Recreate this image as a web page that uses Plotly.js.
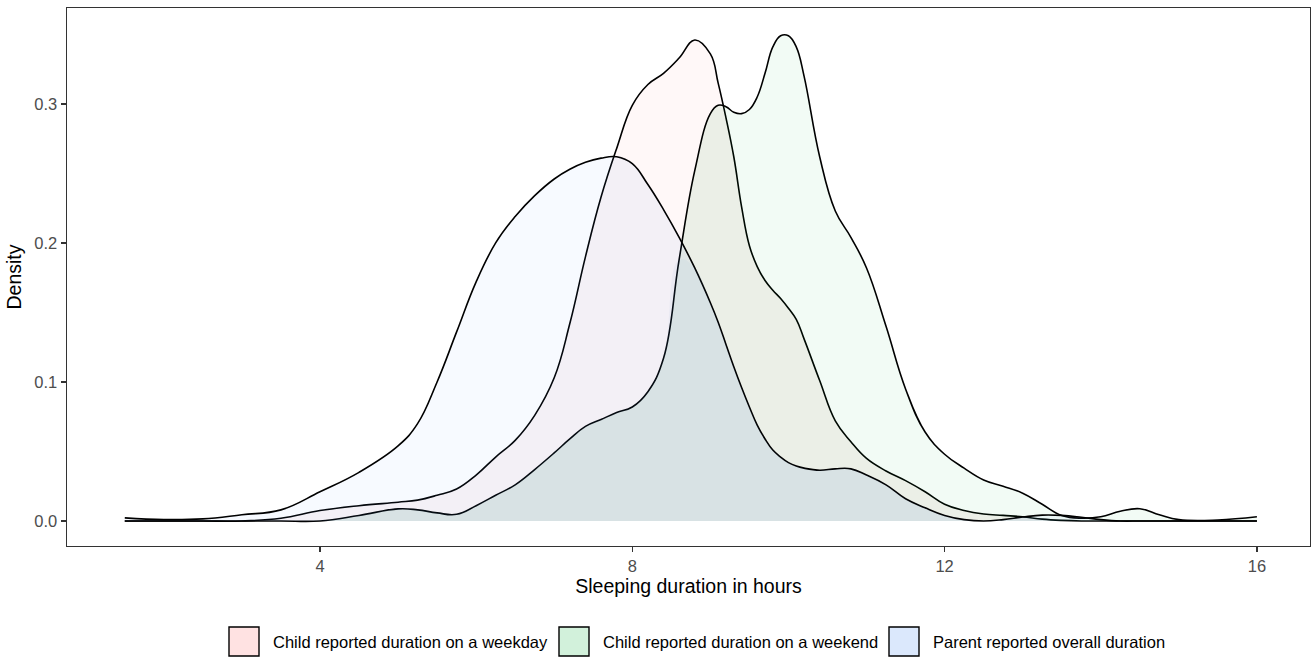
<!DOCTYPE html>
<html>
<head>
<meta charset="utf-8">
<script src="https://cdn.plot.ly/plotly-3.0.1.min.js"></script>
<style>
  html, body { margin: 0; padding: 0; background: #fff; }
  #chart { width: 1314px; height: 658px; }
</style>
</head>
<body>
<div id="chart"></div>
<script>
// ---- Data ----
const hours = [1.5, 2, 2.5, 3, 3.5, 4, 4.5, 5, 5.25, 5.5, 5.75, 6, 6.25, 6.5, 6.75, 7,
  7.2, 7.4, 7.6, 7.8, 8, 8.2, 8.4, 8.6, 8.8, 9, 9.1, 9.2, 9.3, 9.4, 9.5, 9.6, 9.7, 9.8, 9.9, 10,
  10.1, 10.2, 10.4, 10.6, 10.8, 11, 11.25, 11.5, 11.75, 12, 12.25, 12.5, 12.75, 13,
  13.25, 13.5, 13.75, 14, 14.25, 14.5, 14.75, 15, 15.5, 16];

const childWeekday = [0, 0, 0, 0, 0.002, 0.0075, 0.011, 0.0135, 0.015, 0.0185, 0.023, 0.033,
  0.046, 0.058, 0.076, 0.103, 0.142, 0.19, 0.233, 0.268, 0.299, 0.314, 0.322, 0.333, 0.346, 0.336,
  0.315, 0.29, 0.262, 0.226, 0.198, 0.183, 0.173, 0.166, 0.16, 0.153, 0.145, 0.131, 0.101, 0.072,
  0.057, 0.045, 0.036, 0.029, 0.021, 0.012, 0.0075, 0.005, 0.004, 0.003, 0.0013, 0.0004, 0, 0,
  0, 0, 0, 0, 0, 0];

const childWeekend = [0, 0, 0, 0, 0, 0, 0.004, 0.0087, 0.008, 0.0058, 0.0048, 0.011,
  0.0185, 0.026, 0.037, 0.049, 0.059, 0.068, 0.073, 0.078, 0.082, 0.093, 0.117, 0.188, 0.252, 0.293,
  0.299, 0.298, 0.294, 0.293, 0.296, 0.305, 0.322, 0.341, 0.349, 0.349, 0.341, 0.32, 0.262, 0.223,
  0.204, 0.182, 0.14, 0.095, 0.064, 0.048, 0.038, 0.0295, 0.025, 0.02, 0.012, 0.004, 0.002, 0.003,
  0.007, 0.0088, 0.0045, 0.001, 0.0007, 0.003];

const parentOverall = [0.0022, 0.001, 0.0015, 0.0045, 0.008, 0.021, 0.035, 0.054, 0.07, 0.1,
  0.136, 0.172, 0.2, 0.219, 0.234, 0.246, 0.253, 0.258, 0.261, 0.262, 0.257, 0.242, 0.224, 0.204,
  0.182, 0.157, 0.143, 0.127, 0.111, 0.096, 0.082, 0.069, 0.059, 0.051, 0.046, 0.042, 0.0395, 0.038,
  0.0365, 0.0375, 0.0375, 0.033, 0.026, 0.016, 0.0095, 0.004, 0.001, 0, 0.001, 0.0028, 0.0042,
  0.004, 0.0027, 0.001, 0, 0, 0, 0, 0, 0];

const seriesNames = ['Child reported duration on a weekday',
                     'Child reported duration on a weekend',
                     'Parent reported overall duration'];

const xTickVals = [4, 8, 12, 16];
const yTickVals = [0, 0.1, 0.2, 0.3];
const yTickText = ['0.0', '0.1', '0.2', '0.3'];

// ---- Styling ----
const FONT = '"Liberation Sans", Arial, Helvetica, sans-serif';
const fillColors = ['rgba(248,118,109,0.05)', 'rgba(0,186,56,0.05)', 'rgba(97,156,255,0.05)'];
const keyColors = ['#FFE2E2', '#D2F1DB', '#DBE8FC'];
const SMOOTH = 1.2;

const minOf = (...arrs) => hours.map((_, i) => Math.min(...arrs.map(a => a[i])));

function densityTrace(y, fill) {
  return {
    x: hours, y: y, type: 'scatter', mode: 'lines', fill: 'tozeroy',
    fillcolor: fill, line: {color: '#000000', width: 1.6, shape: 'spline', smoothing: SMOOTH},
    showlegend: false, hoverinfo: 'skip'
  };
}
function overlapTrace(y, fill) {
  return {
    x: hours, y: y, type: 'scatter', mode: 'lines', fill: 'tozeroy',
    fillcolor: fill, line: {color: 'rgba(0,0,0,0)', width: 0, shape: 'spline', smoothing: SMOOTH},
    showlegend: false, hoverinfo: 'skip'
  };
}

const traces = [
  densityTrace(childWeekday, fillColors[0]),
  densityTrace(childWeekend, fillColors[1]),
  overlapTrace(minOf(childWeekday, childWeekend), 'rgba(40,110,40,0.03)'),
  densityTrace(parentOverall, fillColors[2]),
  overlapTrace(minOf(childWeekday, parentOverall), 'rgba(57,118,143,0.02)'),
  overlapTrace(minOf(childWeekday, childWeekend, parentOverall), 'rgba(74,146,203,0.05)')
];

// ---- Layout ----
const W = 1314, H = 658;
const M = {l: 67, r: 4, t: 8, b: 112};
const PW = W - M.l - M.r, PH = H - M.t - M.b;
const px = v => (v - M.l) / PW;
const py = v => (H - M.b - v) / PH;

const shapes = [];
const annotations = [];
const keyLeft = [229, 559, 889];
const textLeft = [271, 601, 931];
const keyTop = 627, keyBottom = 656, keyMid = 641.5;
seriesNames.forEach((name, i) => {
  shapes.push({
    type: 'rect', xref: 'paper', yref: 'paper',
    x0: px(keyLeft[i]), x1: px(keyLeft[i] + 30), y0: py(keyBottom), y1: py(keyTop),
    fillcolor: keyColors[i], line: {color: '#000000', width: 1.4}
  });
  annotations.push({
    xref: 'paper', yref: 'paper', x: px(textLeft[i]), y: py(keyMid),
    xanchor: 'left', yanchor: 'middle', showarrow: false, text: name,
    font: {family: FONT, size: 16.5, color: '#000000'}
  });
});

const layout = {
  width: W, height: H,
  margin: M,
  paper_bgcolor: '#ffffff', plot_bgcolor: '#ffffff',
  font: {family: FONT},
  showlegend: false,
  xaxis: {
    range: [0.76, 16.68], tickvals: xTickVals, ticktext: xTickVals.map(String),
    showgrid: false, zeroline: false, showline: true, mirror: true,
    linecolor: '#333333', linewidth: 1.4,
    ticks: 'outside', ticklen: 5, tickwidth: 1.4, tickcolor: '#333333',
    tickfont: {family: FONT, size: 16.5, color: '#4D4D4D'},
    title: {text: 'Sleeping duration in hours', font: {family: FONT, size: 19.5, color: '#000000'}, standoff: 5}
  },
  yaxis: {
    range: [-0.018, 0.369], tickvals: yTickVals, ticktext: yTickText,
    showgrid: false, zeroline: false, showline: true, mirror: true,
    linecolor: '#333333', linewidth: 1.4,
    ticks: 'outside', ticklen: 5, tickwidth: 1.4, tickcolor: '#333333',
    tickfont: {family: FONT, size: 16.5, color: '#4D4D4D'},
    title: {text: 'Density', font: {family: FONT, size: 19.5, color: '#000000'}, standoff: 7}
  },
  shapes: shapes,
  annotations: annotations
};

Plotly.newPlot('chart', traces, layout, {displayModeBar: false, staticPlot: true});
</script>
</body>
</html>
